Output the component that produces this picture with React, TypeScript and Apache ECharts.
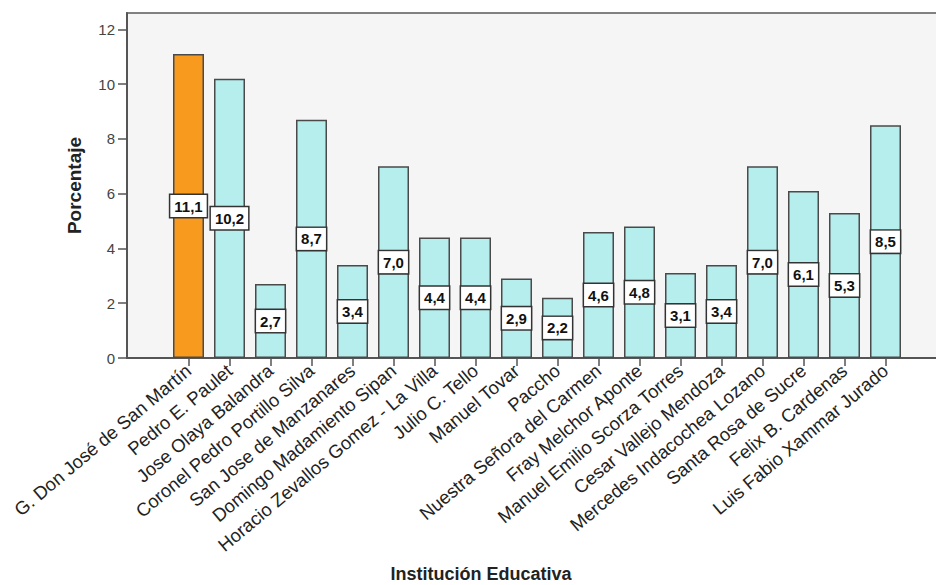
import React, { useEffect, useRef } from "react";
import * as echarts from "echarts";

const categories = [
  "G. Don José de San Martín",
  "Pedro E. Paulet",
  "Jose Olaya Balandra",
  "Coronel Pedro Portillo Silva",
  "San Jose de Manzanares",
  "Domingo Madamiento Sipan",
  "Horacio Zevallos Gomez - La Villa",
  "Julio C. Tello",
  "Manuel Tovar",
  "Paccho",
  "Nuestra Señora del Carmen",
  "Fray Melchor Aponte",
  "Manuel Emilio Scorza Torres",
  "Cesar Vallejo Mendoza",
  "Mercedes Indacochea Lozano",
  "Santa Rosa de Sucre",
  "Felix B. Cardenas",
  "Luis Fabio Xammar Jurado",
];
const values = [11.1, 10.2, 2.7, 8.7, 3.4, 7.0, 4.4, 4.4, 2.9, 2.2, 4.6, 4.8, 3.1, 3.4, 7.0, 6.1, 5.3, 8.5];
const highlighted = 0;
const yTicks = [0, 2, 4, 6, 8, 10, 12];

const FONT = "'Liberation Sans', Arial, Helvetica, sans-serif";

export default function App() {
  const ref = useRef<HTMLDivElement>(null);
  useEffect(() => {
    if (!ref.current) return;
    const chart = echarts.init(ref.current, null, { renderer: "svg" });
    const axisCats = ["", ...categories, " "];
    const seriesData: any[] = ["-"];
    values.forEach((v, i) => {
      seriesData.push({
        value: v,
        itemStyle: { color: i === highlighted ? "#F89A1E" : "#B6EDED" },
      });
    });
    seriesData.push("-");
    chart.setOption({
      animation: false,
      backgroundColor: "#ffffff",
      textStyle: { fontFamily: FONT },
      grid: {
        left: 127,
        top: 13,
        right: -11,
        bottom: 227,
        show: true,
        backgroundColor: "#F5F5F5",
        borderColor: "#5a5a5a",
        borderWidth: 1.5,
        containLabel: false,
        outerBoundsMode: "none",
      },
      xAxis: {
        type: "category",
        data: axisCats,
        axisLine: { show: true, lineStyle: { color: "#555555", width: 2 } },
        axisTick: {
          show: true,
          alignWithLabel: true,
          interval: (idx: number, val: string) => val.trim() !== "",
          length: 8,
          lineStyle: { color: "#555555", width: 1.5 },
        },
        axisLabel: {
          interval: 0,
          rotate: 40,
          margin: 10,
          fontSize: 18.5,
          color: "#222222",
          fontFamily: FONT,
        },
        splitLine: { show: false },
      },
      yAxis: {
        type: "value",
        min: 0,
        max: 12.6,
        interval: 2,
        name: "Porcentaje",
        nameLocation: "middle",
        nameGap: 43,
        nameTextStyle: { fontSize: 19, fontWeight: "bold", color: "#222222", fontFamily: FONT },
        axisLine: { show: true, lineStyle: { color: "#555555", width: 2 } },
        axisTick: {
          show: true,
          length: 9,
          customValues: yTicks,
          lineStyle: { color: "#555555", width: 1.5 },
        },
        axisLabel: {
          customValues: yTicks,
          fontSize: 15,
          color: "#444444",
          margin: 12,
          fontFamily: FONT,
        },
        splitLine: { show: false },
      },
      series: [
        {
          type: "bar",
          data: seriesData,
          barWidth: 31,
          itemStyle: { borderColor: "#4a4a4a", borderWidth: 1.5 },
          label: {
            show: true,
            position: "inside",
            formatter: (p: any) => Number(p.value).toFixed(1).replace(".", ","),
            fontSize: 15,
            fontWeight: "bold",
            color: "#111111",
            backgroundColor: "#ffffff",
            borderColor: "#333333",
            borderWidth: 1.5,
            padding: [4, 4, 3, 4],
            fontFamily: FONT,
          },
        },
      ],
      graphic: [
        {
          type: "text",
          x: 481,
          y: 574,
          style: {
            text: "Institución Educativa",
            font: `bold 18px ${FONT}`,
            fill: "#222222",
            textAlign: "center",
            textVerticalAlign: "middle",
          },
        },
      ],
    });
    return () => chart.dispose();
  }, []);
  return (
    <div
      ref={ref}
      style={{ position: "absolute", left: 0, top: 0, width: 936, height: 585 }}
    />
  );
}
